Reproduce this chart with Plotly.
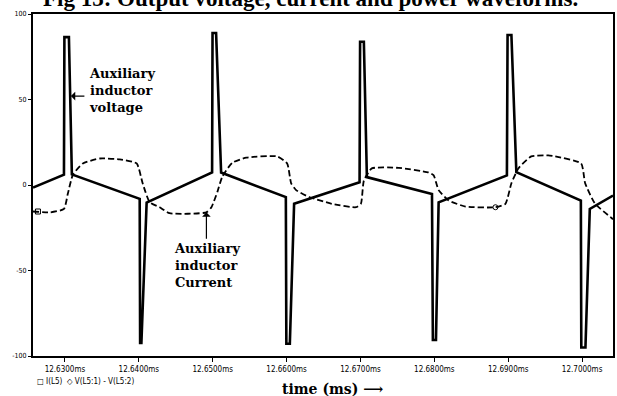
import plotly.graph_objects as go

# ---- data (time in ms) ----
volt_t = [12.62568, 12.62987, 12.62993, 12.63054, 12.63094, 12.64012, 12.64018, 12.64035, 12.64106,
          12.64992, 12.64998, 12.65046, 12.65114, 12.65990, 12.65997, 12.66044, 12.66102,
          12.66988, 12.66995, 12.67046, 12.67087, 12.67968, 12.67980, 12.68022, 12.68058,
          12.68982, 12.68991, 12.69043, 12.69110, 12.69983, 12.69989, 12.70045, 12.70104, 12.70418]
volt_v = [-1.5, 6.0, 86.5, 86.5, 6.2, -8.1, -92.4, -92.4, -10.3,
          7.3, 88.9, 88.9, 7.3, -7.1, -92.8, -92.8, -11.0,
          1.6, 83.8, 83.8, 4.6, -5.2, -90.6, -90.6, -10.1,
          5.6, 87.7, 87.7, 7.5, -9.1, -95.0, -95.0, -14.0, -6.2]

curr_t = [12.62568, 12.62798, 12.62987, 12.63040, 12.63108, 12.63243, 12.63472, 12.63742, 12.63971,
          12.64052, 12.64146, 12.64281, 12.64416, 12.64915, 12.64983, 12.65064, 12.65131, 12.65266,
          12.65455, 12.65873, 12.66008, 12.66062, 12.66129, 12.66305, 12.66615, 12.66939, 12.67006,
          12.67046, 12.67154, 12.67519, 12.67923, 12.67991, 12.68058, 12.68193, 12.68422, 12.68827,
          12.68962, 12.69043, 12.69137, 12.69312, 12.69542, 12.69636, 12.69987, 12.70041, 12.70176,
          12.70391, 12.70418]
curr_v = [-15.5, -16.0, -14.0, -5.0, 6.0, 12.6, 15.5, 15.0, 12.6,
          1.0, -10.0, -13.0, -16.5, -16.0, -13.0, -4.0, 5.0, 13.0,
          16.0, 16.7, 12.6, 1.0, -3.0, -7.0, -11.0, -13.0, -11.0,
          2.6, 9.7, 10.0, 7.3, 5.6, -3.0, -9.0, -12.6, -13.0,
          -11.0, 1.0, 9.7, 16.7, 17.3, 16.7, 12.6, 1.0, -11.0,
          -19.0, -20.0]

# sparse PSpice markers
curr_mark_t = [12.62635]
curr_mark_v = [-15.5]
curr_mark2_t = [12.68827]
curr_mark2_v = [-13.0]

x_ticks = [12.630, 12.640, 12.650, 12.660, 12.670, 12.680, 12.690, 12.700]
x_ticktext = ["12.6300ms", "12.6400ms", "12.6500ms", "12.6600ms",
              "12.6700ms", "12.6800ms", "12.6900ms", "12.7000ms"]
y_ticks = [100, 50, 0, -50, -100]
y_ticktext = ["100", "50", "0", "-50", "-100"]

x_range = [12.62568, 12.70418]
y_range = [-100, 100]

small_font = "DejaVu Sans Condensed, Liberation Sans Narrow, DejaVu Sans, sans-serif"
serif_b = "DejaVu Serif, Liberation Serif, serif"

fig = go.Figure()
fig.add_trace(go.Scatter(x=curr_t, y=curr_v, mode="lines",
                         line=dict(color="black", width=1.8, dash="6px,3px", shape="spline", smoothing=0.5),
                         showlegend=False, hoverinfo="skip"))
fig.add_trace(go.Scatter(x=volt_t, y=volt_v, mode="lines",
                         line=dict(color="black", width=2.6),
                         showlegend=False, hoverinfo="skip"))
fig.add_trace(go.Scatter(x=curr_mark_t, y=curr_mark_v, mode="markers",
                         marker=dict(symbol="square-open", size=5, color="black", line=dict(width=1)),
                         showlegend=False, hoverinfo="skip"))
fig.add_trace(go.Scatter(x=curr_mark2_t, y=curr_mark2_v, mode="markers",
                         marker=dict(symbol="circle-open", size=5, color="black", line=dict(width=1)),
                         showlegend=False, hoverinfo="skip"))

L, R, T, B = 33, 2, 14, 40
W, H = 617, 396
pw, ph = W - L - R, H - T - B

def px(x):
    return (x - L) / pw

def py(y):
    return (H - B - y) / ph

annotations = [
    dict(text="<b>Fig 13: Output voltage, current and power waveforms.</b>",
         x=px(311), y=py(-1.5), xref="paper", yref="paper", showarrow=False,
         xanchor="center", yanchor="middle",
         font=dict(family="Liberation Serif, Times New Roman, serif", size=23, color="black")),
    dict(text="<b>Auxiliary<br>inductor<br>voltage</b>",
         x=px(87), y=py(64), xref="paper", yref="paper", showarrow=False,
         xanchor="left", yanchor="top", align="left",
         font=dict(family=serif_b, size=13, color="black")),
    dict(text="<b>Auxiliary<br>inductor<br>Current</b>",
         x=px(172), y=py(239), xref="paper", yref="paper", showarrow=False,
         xanchor="left", yanchor="top", align="left",
         font=dict(family=serif_b, size=13, color="black")),
    dict(text="", x=12.63081, y=52, xref="x", yref="y", showarrow=True,
         ax=15, ay=0, arrowhead=1, arrowsize=1.2, arrowwidth=1.2, arrowcolor="black"),
    dict(text="", x=12.64915, y=-16, xref="x", yref="y", showarrow=True,
         ax=0, ay=28, arrowhead=1, arrowsize=1.2, arrowwidth=1.2, arrowcolor="black"),
    dict(text="<b>time (ms) ⟶</b>",
         x=px(334), y=py(389), xref="paper", yref="paper", showarrow=False,
         xanchor="center", yanchor="middle",
         font=dict(family=serif_b, size=14, color="black")),
    dict(text="□ I(L5)  ◇ V(L5:1) - V(L5:2)",
         x=px(35), y=py(381), xref="paper", yref="paper", showarrow=False,
         xanchor="left", yanchor="middle",
         font=dict(family=small_font, size=8, color="black")),
]

fig.update_layout(
    width=W, height=H,
    margin=dict(l=L, r=R, t=T, b=B, pad=0),
    paper_bgcolor="white", plot_bgcolor="white",
    showlegend=False,
    annotations=annotations,
    xaxis=dict(range=x_range, tickmode="array", tickvals=x_ticks, ticktext=x_ticktext,
               showgrid=False, zeroline=False, showline=True, mirror=True,
               linecolor="black", linewidth=2, ticks="outside", ticklen=4, tickwidth=1,
               tickcolor="black",
               tickfont=dict(family=small_font, size=8, color="black")),
    yaxis=dict(range=y_range, tickmode="array", tickvals=y_ticks, ticktext=y_ticktext,
               showgrid=False, zeroline=False, showline=True, mirror=True,
               linecolor="black", linewidth=2, ticks="outside", ticklen=3, tickwidth=1,
               tickcolor="black",
               tickfont=dict(family=small_font, size=7, color="black")),
)

fig.write_html("out.html")
